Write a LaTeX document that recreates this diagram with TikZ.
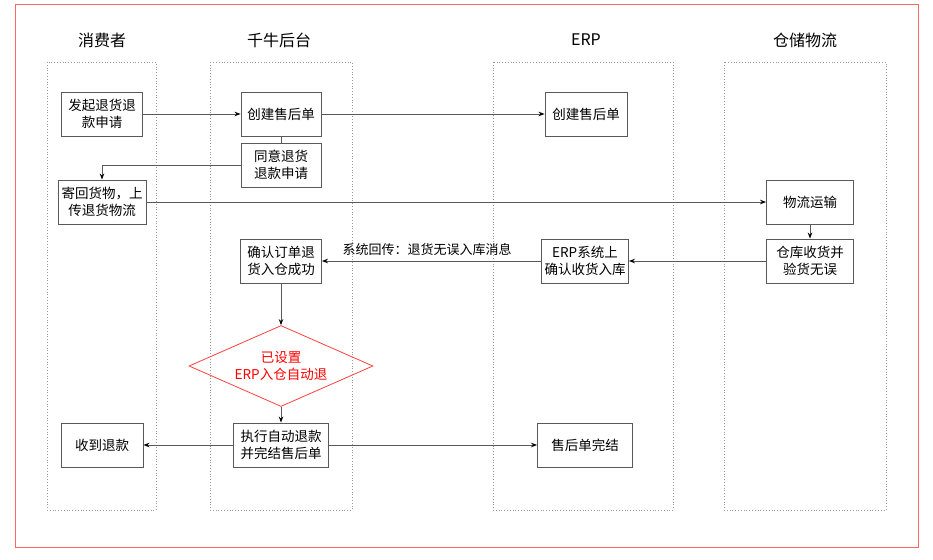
\documentclass[tikz,border=0pt]{standalone}
\usepackage{fontspec}
\setmainfont{Noto Sans CJK SC}
\usetikzlibrary{shapes.geometric,arrows.meta}
\tikzset{
  box/.style={draw=black!65,line width=0.9pt,fill=white,minimum width=#1,minimum height=44pt,inner sep=0pt,align=center,font=\fontsize{13.5}{17}\selectfont},
  box/.default=81pt,
  lane/.style={draw=black!40,dotted,line width=0.8pt},
  title/.style={font=\fontsize{16}{19}\selectfont},
  conn/.style={draw=black!65,line width=0.9pt,-{Stealth[length=6pt,width=4.5pt,black]}},
  plain/.style={draw=black!65,line width=0.9pt},
}
\begin{document}
\begin{tikzpicture}[x=1pt,y=-1pt]
\useasboundingbox (0,0) rectangle (933,559);
\draw[draw=red!60,line width=0.9pt] (15,4) rectangle (918,547);
% lanes
\draw[lane] (47,62) rectangle (156,510);
\draw[lane] (210,62) rectangle (352,510);
\draw[lane] (493,62) rectangle (673,510);
\draw[lane] (724,62) rectangle (886,510);
% titles
\node[title] (t1) at (102,40) {消费者};
\node[title] (t2) at (279,40) {千牛后台};
\node[title] (t3) at (586,40) {ERP};
\node[title] (t4) at (805,40) {仓储物流};
% nodes
\node[box=81pt] (c1) at (102,114) {发起退货退\\款申请};
\node[box=80pt] (q1) at (281,114) {创建售后单};
\node[box=82pt] (e1) at (586,114) {创建售后单};
\node[box=80pt] (q2) at (281,165) {同意退货\\退款申请};
\node[box=88pt] (c2) at (102,202) {寄回货物，上\\传退货物流};
\node[box=87pt] (w1) at (810,202) {物流运输};
\node[box=87pt] (w2) at (810,261) {仓库收货并\\验货无误};
\node[box=87pt] (e2) at (585,261) {ERP系统上\\确认收货入库};
\node[box=81pt] (q3) at (281,261) {确认订单退\\货入仓成功};
\node[diamond,draw=red!75,line width=0.8pt,inner sep=0pt,
      minimum width=184pt,minimum height=81pt] (d) at (281,366) {};
\node[align=center,text=red,font=\fontsize{13.5}{17}\selectfont] (dt) at (d.center) {已设置\\ERP入仓自动退};
\node[box=95pt] (q4) at (281,445) {执行自动退款\\并完结售后单};
\node[box=82pt] (c3) at (102,445) {收到退款};
\node[box=95pt] (e3) at (585,445) {售后单完结};
% connectors
\draw[conn] (c1) -- (q1);
\draw[conn] (q1) -- (e1);
\draw[plain] (q1) -- (q2);
\draw[conn] (q2.west) -| (c2.north);
\draw[conn] (c2) -- (w1);
\draw[conn] (w1) -- (w2);
\draw[conn] (w2) -- (e2);
\draw[conn] (e2) -- node[above=2pt,pos=0.52,font=\fontsize{13}{15}\selectfont] (lbl) {系统回传：退货无误入库消息} (q3);
\draw[conn] (q3) -- (d.north);
\draw[conn] (d.south) -- (q4);
\draw[conn] (q4) -- (c3);
\draw[conn] (q4) -- (e3);
\end{tikzpicture}
\end{document}
